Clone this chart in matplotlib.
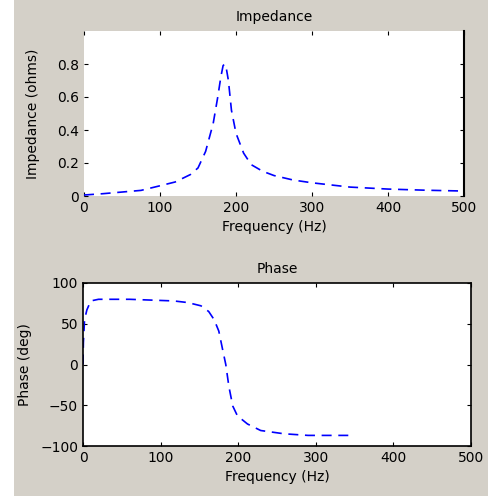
import numpy as np
import matplotlib.pyplot as plt
from matplotlib.patches import Rectangle

# impedance magnitude vs frequency
freq_z = [0, 25, 50, 75, 100, 120, 140, 150, 160, 170, 176, 180, 183, 185,
          187, 190, 194, 200, 210, 220, 235, 250, 275, 300, 350, 400, 450, 500]
imp = [0.006, 0.014, 0.024, 0.034, 0.062, 0.085, 0.13, 0.17, 0.27, 0.44, 0.6,
       0.72, 0.79, 0.80, 0.78, 0.70, 0.52, 0.38, 0.26, 0.19, 0.15, 0.124,
       0.097, 0.08, 0.054, 0.042, 0.035, 0.03]

# phase vs frequency
freq_p = [0, 0.5, 2, 5, 10, 20, 60, 117, 135, 152, 162, 169, 175, 180, 184,
          188, 193, 199, 212, 229, 259, 290, 343]
phase = [0, 27, 55, 67, 78, 80, 80, 78, 76, 72, 65, 55, 41, 18, 0,
         -27, -51, -63, -73, -81, -85, -87, -87]

bg = '#d4d0c8'
fs = 10

fig = plt.figure(figsize=(4.88, 4.96), dpi=100, facecolor='white')
fig.patches.append(Rectangle((14 / 488, 0), 1, 1, transform=fig.transFigure,
                             facecolor=bg, edgecolor='none', zorder=-10))

ax1 = fig.add_axes([84 / 488, 1 - 196 / 496, 380 / 488, 165 / 496])
ax1.plot(freq_z, imp, color='blue', linestyle='--', dashes=(6, 4), linewidth=1.2)
ax1.set_xlim(0, 500)
ax1.set_ylim(0, 1.0)
ax1.set_xticks([0, 100, 200, 300, 400, 500])
ax1.set_yticks([0, 0.2, 0.4, 0.6, 0.8])
ax1.set_yticklabels(['0', '0.2', '0.4', '0.6', '0.8'])
ax1.set_title('Impedance', fontsize=fs, pad=7)
ax1.set_xlabel('Frequency (Hz)', fontsize=fs)
ax1.set_ylabel('Impedance (ohms)', fontsize=fs, labelpad=12)
for s in ['top', 'left', 'bottom']:
    ax1.spines[s].set_visible(False)
ax1.spines['right'].set_linewidth(1.5)

ax2 = fig.add_axes([83 / 488, 1 - 446 / 496, 388 / 488, 163 / 496])
ax2.plot(freq_p, phase, color='blue', linestyle='--', dashes=(6, 4), linewidth=1.2)
ax2.set_xlim(0, 500)
ax2.set_ylim(-100, 100)
ax2.set_xticks([0, 100, 200, 300, 400, 500])
ax2.set_yticks([-100, -50, 0, 50, 100])
ax2.set_title('Phase', fontsize=fs, pad=7)
ax2.set_xlabel('Frequency (Hz)', fontsize=fs)
ax2.set_ylabel('Phase (deg)', fontsize=fs, labelpad=6)
for s in ax2.spines.values():
    s.set_linewidth(1.2)

for ax in (ax1, ax2):
    ax.set_facecolor('white')
    ax.tick_params(direction='in', length=3, labelsize=fs, top=True, right=True)

fig.savefig('out.png', dpi=100, facecolor=fig.get_facecolor())
